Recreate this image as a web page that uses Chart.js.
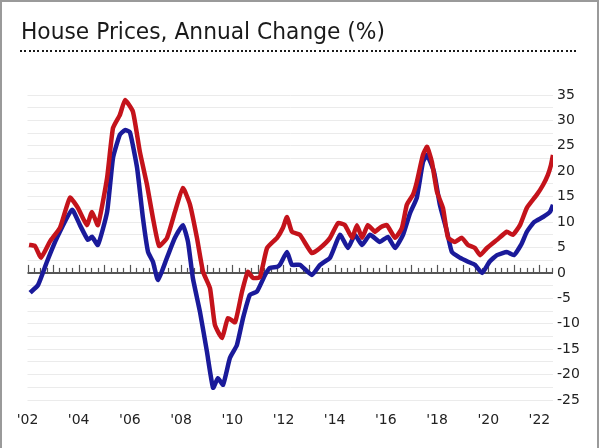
<!DOCTYPE html>
<html>
<head>
<meta charset="utf-8">
<script src="https://cdn.jsdelivr.net/npm/chart.js@4/dist/chart.umd.min.js"></script>
<style>
  html, body { margin: 0; padding: 0; background: #ffffff; }
  #wrap { position: relative; width: 600px; height: 448px; overflow: hidden; }
  #frame { position: absolute; left: 0; top: 0; width: 595px; height: 470px;
           border: 2px solid #9a9a9a; pointer-events: none; }
  canvas { position: absolute; left: 0; top: 0; }
</style>
</head>
<body>
<div id="wrap">
  <canvas id="c" width="600" height="448"></canvas>
  <div id="frame"></div>
</div>
<script>
// ---- data (decimal years, % annual change) ----
const chartTitle = "House Prices, Annual Change (%)";

const redDates = [2002.06, 2002.29, 2002.53, 2002.88, 2003.27, 2003.66, 2003.97, 2004.32, 2004.52, 2004.75,
  2005.11, 2005.34, 2005.61, 2005.81, 2006.12, 2006.39, 2006.67, 2006.90, 2007.14, 2007.45,
  2007.76, 2008.07, 2008.35, 2008.62, 2008.86, 2009.13, 2009.32, 2009.60, 2009.83, 2010.11,
  2010.38, 2010.61, 2010.81, 2011.08, 2011.36, 2011.75, 2011.98, 2012.14, 2012.33, 2012.64,
  2013.11, 2013.43, 2013.82, 2014.13, 2014.40, 2014.68, 2014.87, 2015.07, 2015.30, 2015.57,
  2015.77, 2016.04, 2016.36, 2016.63, 2016.82, 2017.06, 2017.21, 2017.45, 2017.61, 2017.80,
  2018.00, 2018.23, 2018.43, 2018.70, 2018.97, 2019.21, 2019.48, 2019.68, 2019.95, 2020.34,
  2020.73, 2020.96, 2021.24, 2021.51, 2021.90, 2022.14, 2022.33, 2022.45, 2022.53];
const redValues = [5.5, 5.3, 3.0, 6.2, 8.9, 14.8, 12.8, 9.4, 12.0, 9.4,
  18.7, 28.5, 31.1, 34.0, 31.7, 23.8, 17.3, 10.8, 5.3, 6.9,
  12.0, 16.7, 13.4, 6.9, 0.2, -3.0, -10.2, -12.8, -8.9, -9.7,
  -3.7, 0.2, -1.0, -0.8, 4.9, 6.9, 8.9, 11.0, 8.1, 7.5,
  3.9, 4.9, 6.9, 9.8, 9.4, 6.9, 9.4, 6.9, 9.4, 8.1,
  8.9, 9.4, 6.9, 8.9, 13.4, 15.4, 17.9, 23.2, 24.8, 21.8,
  15.9, 12.8, 6.9, 6.1, 6.9, 5.5, 4.9, 3.5, 4.9, 6.5,
  8.1, 7.5, 9.4, 12.8, 15.4, 17.3, 19.3, 21.2, 23.2];

const blueDates = [2002.10, 2002.41, 2002.76, 2003.15, 2003.74, 2004.05, 2004.36, 2004.52, 2004.75, 2005.11,
  2005.34, 2005.61, 2005.81, 2006.00, 2006.28, 2006.51, 2006.71, 2006.90, 2007.10, 2007.45,
  2007.76, 2008.07, 2008.27, 2008.46, 2008.74, 2009.01, 2009.25, 2009.44, 2009.64, 2009.91,
  2010.18, 2010.42, 2010.69, 2010.96, 2011.28, 2011.47, 2011.75, 2011.86, 2012.14, 2012.33,
  2012.64, 2013.11, 2013.43, 2013.82, 2014.21, 2014.52, 2014.79, 2015.07, 2015.38, 2015.77,
  2016.08, 2016.36, 2016.67, 2016.94, 2017.21, 2017.45, 2017.61, 2017.88, 2018.11, 2018.39,
  2018.58, 2018.89, 2019.21, 2019.48, 2019.76, 2020.05, 2020.34, 2020.73, 2021.00, 2021.28,
  2021.51, 2021.79, 2022.14, 2022.41, 2022.53];
const blueValues = [-3.9, -2.4, 2.2, 6.9, 12.4, 9.4, 6.5, 7.1, 5.5, 12.0,
  22.6, 27.2, 28.1, 27.7, 20.7, 10.8, 4.1, 2.2, -1.4, 3.0,
  6.9, 9.4, 6.1, -1.0, -7.7, -15.5, -22.6, -20.7, -22.0, -16.7,
  -14.2, -8.9, -4.3, -3.7, -0.4, 1.0, 1.2, 1.6, 4.1, 1.6,
  1.6, -0.4, 1.6, 3.0, 7.5, 4.9, 7.5, 5.5, 7.5, 6.1,
  7.1, 4.9, 7.5, 11.7, 14.8, 21.8, 23.2, 19.9, 13.4, 8.1,
  4.1, 3.0, 2.2, 1.6, 0.0, 2.2, 3.5, 4.1, 3.5, 5.5,
  8.1, 10.0, 11.0, 12.0, 13.4];

const xTickYears = [2002, 2004, 2006, 2008, 2010, 2012, 2014, 2016, 2018, 2020, 2022];
const yMin = -25, yMax = 35, yStep = 2.5, yLabelStep = 5;
const xMin = 2002, xMax = 2022.53;

const redPoints = redDates.map((d, i) => ({ x: d, y: redValues[i] }));
const bluePoints = blueDates.map((d, i) => ({ x: d, y: blueValues[i] }));

const decorPlugin = {
  id: 'decor',
  beforeDraw(chart) {
    const ctx = chart.ctx;
    ctx.save();
    ctx.fillStyle = '#ffffff';
    ctx.fillRect(0, 0, chart.width, chart.height);
    // title
    ctx.fillStyle = '#1a1a1a';
    ctx.font = '23px "DejaVu Sans"';
    ctx.textBaseline = 'alphabetic';
    ctx.textAlign = 'left';
    ctx.fillText(chartTitle, 21, 38.5, 364);
    // dotted rule
    ctx.fillStyle = '#1a1a1a';
    for (let x = 20; x <= 578; x += 4.33) {
      ctx.fillRect(Math.round(x), 50, 2, 2);
    }
    ctx.restore();
  },
  beforeDatasetsDraw(chart) {
    const ctx = chart.ctx;
    const xs = chart.scales.x, ys = chart.scales.y;
    const y0 = ys.getPixelForValue(0);
    ctx.save();
    ctx.strokeStyle = '#555';
    ctx.lineWidth = 1.2;
    for (let q = 0; xMin + q * 0.25 <= xMax + 1e-6; q++) {
      const v = xMin + q * 0.25;
      const px = Math.round(xs.getPixelForValue(v)) + 0.5;
      const h = (q % 4 === 0) ? 8 : 5;
      ctx.beginPath();
      ctx.moveTo(px, y0);
      ctx.lineTo(px, y0 - h);
      ctx.stroke();
    }
    ctx.strokeStyle = '#555';
    ctx.lineWidth = 2;
    ctx.beginPath();
    ctx.moveTo(chart.chartArea.left, y0);
    ctx.lineTo(chart.chartArea.right, y0);
    ctx.stroke();
    ctx.restore();
  }
};

new Chart(document.getElementById('c'), {
  type: 'line',
  data: {
    datasets: [
      { label: 'Red series', data: redPoints, borderColor: '#c4131b', borderWidth: 4.5,
        pointRadius: 0, tension: 0.15, fill: false },
      { label: 'Blue series', data: bluePoints, borderColor: '#1a1a9a', borderWidth: 4.5,
        pointRadius: 0, tension: 0.15, fill: false }
    ]
  },
  options: {
    responsive: false,
    animation: false,
    devicePixelRatio: 1,
    layout: { padding: { left: 27.5, right: 0, top: 95, bottom: 0 } },
    plugins: { legend: { display: false }, tooltip: { enabled: false }, title: { display: false } },
    scales: {
      x: {
        type: 'linear', min: xMin, max: xMax,
        grid: { display: false, drawTicks: false },
        border: { display: false },
        afterBuildTicks(axis) { axis.ticks = xTickYears.map(v => ({ value: v })); },
        afterFit(axis) { axis.height = 48; },
        ticks: {
          autoSkip: false, maxRotation: 0, padding: 12,
          color: '#222', font: { family: 'DejaVu Sans', size: 14 },
          callback: v => "'" + String(Math.round(v) % 100).padStart(2, '0')
        }
      },
      y: {
        type: 'linear', position: 'right', min: yMin, max: yMax,
        grid: { color: ctx => (ctx.tick && ctx.tick.value === 0) ? 'rgba(0,0,0,0)' : '#ebebeb',
                lineWidth: 1, drawTicks: false },
        border: { display: false },
        afterFit(axis) { axis.width = 47; },
        ticks: {
          stepSize: yStep, autoSkip: false, padding: 4,
          color: '#222', font: { family: 'DejaVu Sans', size: 14 },
          callback: v => (Math.abs(v % yLabelStep) < 1e-9 ? String(v) : '')
        }
      }
    }
  },
  plugins: [decorPlugin]
});
</script>
</body>
</html>
